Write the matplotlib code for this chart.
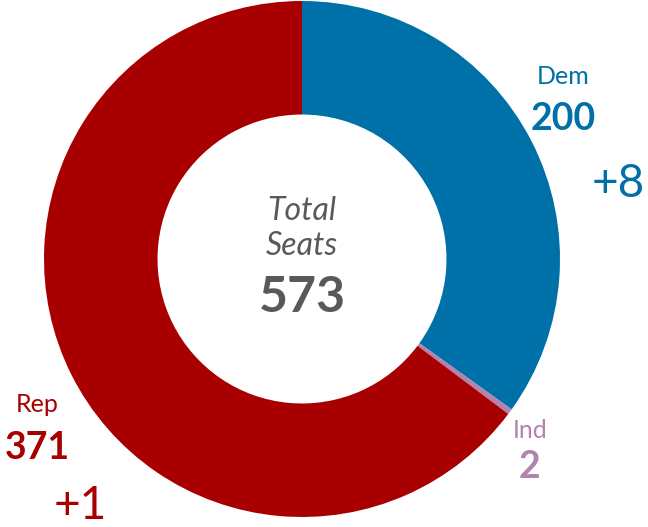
import matplotlib
matplotlib.use('Agg')
import matplotlib.pyplot as plt

# --- data ---------------------------------------------------------------
parties = ['Dem', 'Ind', 'Rep']
seats = [200, 2, 371]
changes = ['+8', '', '+1']
colors = ['#0070A8', '#B383B0', '#A80000']
total = sum(seats)

plt.rcParams['font.family'] = ['Lato', 'DejaVu Sans']

W, H = 648, 527
fig = plt.figure(figsize=(W / 100, H / 100), dpi=100)
ax = fig.add_axes([0, 0, 1, 1])

# donut in pixel coords (y up)
cx, cy, R = 302, H - 259, 258
ax.pie(seats, colors=colors, startangle=90, counterclock=False,
       center=(cx, cy), radius=R,
       wedgeprops=dict(width=R * 0.44, linewidth=0))
ax.set_xlim(0, W)
ax.set_ylim(0, H)
ax.set_aspect('equal')
ax.axis('off')

# centre labels
grey = '#595959'
ax.text(cx, H - 211, 'Total', ha='center', va='center', fontsize=23,
        style='italic', color=grey)
ax.text(cx, H - 246, 'Seats', ha='center', va='center', fontsize=23,
        style='italic', color=grey)
ax.text(cx, H - 298, f'{total}', ha='center', va='center', fontsize=36,
        weight='bold', color=grey)

# party labels: (name xy, number xy, change xy)
pos = {
    'Dem': ((563, 76), (563, 119), (618, 184)),
    'Ind': ((530, 431), (530, 467), None),
    'Rep': ((37, 405), (37, 448), (80, 506)),
}
for p, n, ch, c in zip(parties, seats, changes, colors):
    (nx, ny), (vx, vy), cpos = pos[p]
    ax.text(nx, H - ny, p, ha='center', va='center', fontsize=18, color=c)
    ax.text(vx, H - vy, f'{n}', ha='center', va='center', fontsize=27,
            weight='bold', color=c)
    if cpos and ch:
        ax.text(cpos[0], H - cpos[1], ch, ha='center', va='center',
                fontsize=33, color=c)

fig.savefig('out.png', dpi=100)
